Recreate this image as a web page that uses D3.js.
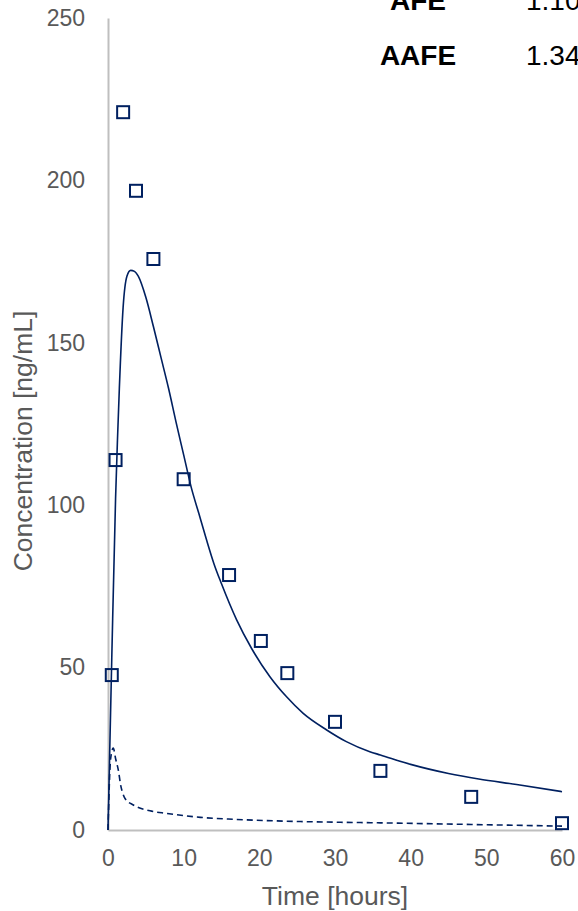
<!DOCTYPE html>
<html>
<head>
<meta charset="utf-8">
<script src="https://cdn.jsdelivr.net/npm/d3@7"></script>
<style>
  html, body { margin: 0; padding: 0; background: #ffffff; }
  svg { display: block; overflow: hidden; }
  text { font-family: "Liberation Sans", Arial, sans-serif; }
</style>
</head>
<body>
<svg id="chart" width="578" height="911"></svg>
<script>
// Observed plasma concentrations (ng/mL) at sampling times (h)
const obsTime = [0.5, 1, 2, 3.7, 6, 10, 16, 20.2, 23.7, 30, 36, 48, 60];
const obsConc = [47.7, 113.9, 221, 196.8, 175.8, 108, 78.5, 58.2, 48.3, 33.3, 18.2, 10.2, 2.1];

// Model prediction (solid line)
const predTime = [0, 0.5, 1, 1.25, 1.5, 2, 2.5, 3, 3.5, 4, 5, 6, 7, 8, 9, 10, 11, 12, 13, 14, 15, 17, 19, 21.4, 23.6, 25.8, 28.9, 31.5, 34.6, 36, 40, 45, 49, 54, 60];
const predConc = [0, 53, 102, 120, 136, 161, 170.5, 172.3, 172, 170.5, 164, 155, 145.5, 136, 125.5, 115.5, 105.5, 97.5, 89.5, 82, 75.8, 64.7, 55.8, 47.2, 41, 35.9, 30.8, 27.2, 24.1, 23.1, 20.2, 17.4, 15.7, 14, 11.8];

// Second prediction (dashed line)
const pred2Time = [0, 0.35, 0.7, 1.0, 1.36, 1.7, 2.0, 2.25, 3.35, 5.55, 7.76, 12.2, 16.6, 21, 25.4, 30, 36, 48, 60];
const pred2Conc = [0, 22, 25.2, 22, 18.5, 13.5, 11, 9.7, 7.7, 5.9, 5.1, 3.9, 3.3, 2.9, 2.6, 2.4, 2.2, 1.7, 1.2];

// Axis ticks
const xTicks = [0, 10, 20, 30, 40, 50, 60];
const yTicks = [0, 50, 100, 150, 200, 250];

// Fold-error statistics
const statNames = ["AFE", "AAFE"];
const statValues = ["1.10", "1.34"];

const navy = "#002060";
const fontFamily = '"Liberation Sans", Arial, sans-serif';
const svg = d3.select("#chart");

const x = d3.scaleLinear().domain([0, 60]).range([108, 562]);
const y = d3.scaleLinear().domain([0, 250]).range([830, 18]);

// Y axis
const yAxis = svg.append("g")
  .attr("transform", `translate(${x(0)},0)`)
  .call(d3.axisLeft(y).tickValues(yTicks).tickSize(0).tickSizeOuter(0).tickPadding(23));
yAxis.select(".domain").attr("stroke", "#bfbfbf").attr("stroke-width", 2);
yAxis.selectAll("text").attr("fill", "#595959").style("font-size", "23px")
  .style("font-family", fontFamily);

// X axis
const xAxis = svg.append("g")
  .attr("transform", `translate(0,${y(0)})`)
  .call(d3.axisBottom(x).tickValues(xTicks).tickSize(0).tickSizeOuter(0).tickPadding(20));
xAxis.select(".domain").attr("stroke", "#bfbfbf").attr("stroke-width", 2);
xAxis.selectAll("text").attr("fill", "#595959").style("font-size", "23px")
  .style("font-family", fontFamily);

// Axis titles
svg.append("text")
  .attr("x", (x(0) + x(60)) / 2).attr("y", 905)
  .attr("text-anchor", "middle").attr("fill", "#595959")
  .style("font-size", "26.5px").text("Time [hours]");

svg.append("text")
  .attr("transform", `translate(32,${441}) rotate(-90)`)
  .attr("text-anchor", "middle").attr("fill", "#595959")
  .style("font-size", "26.5px").text("Concentration [ng/mL]");

// Lines
const line = d3.line().x(d => x(d[0])).y(d => y(d[1])).curve(d3.curveMonotoneX);

svg.append("path")
  .datum(pred2Time.map((t, i) => [t, pred2Conc[i]]))
  .attr("d", line).attr("fill", "none").attr("stroke", navy)
  .attr("stroke-width", 1.6).attr("stroke-dasharray", "6,4");

svg.append("path")
  .datum(predTime.map((t, i) => [t, predConc[i]]))
  .attr("d", line).attr("fill", "none").attr("stroke", navy)
  .attr("stroke-width", 1.6);

// Observed markers
const sq = 12;
svg.append("g").selectAll("rect")
  .data(obsTime.map((t, i) => [t, obsConc[i]]))
  .join("rect")
  .attr("x", d => x(d[0]) - sq / 2).attr("y", d => y(d[1]) - sq / 2)
  .attr("width", sq).attr("height", sq)
  .attr("fill", "none").attr("stroke", navy).attr("stroke-width", 2);

// Statistics table
const stats = svg.append("g");
statNames.forEach((name, i) => {
  const by = 10 + i * 55;
  stats.append("text").attr("x", 418).attr("y", by).attr("text-anchor", "middle")
    .attr("fill", "#000").style("font-size", "28px").style("font-weight", "bold").text(name);
  stats.append("text").attr("x", 526).attr("y", by)
    .attr("fill", "#000").style("font-size", "28px").text(statValues[i]);
});
</script>
</body>
</html>
